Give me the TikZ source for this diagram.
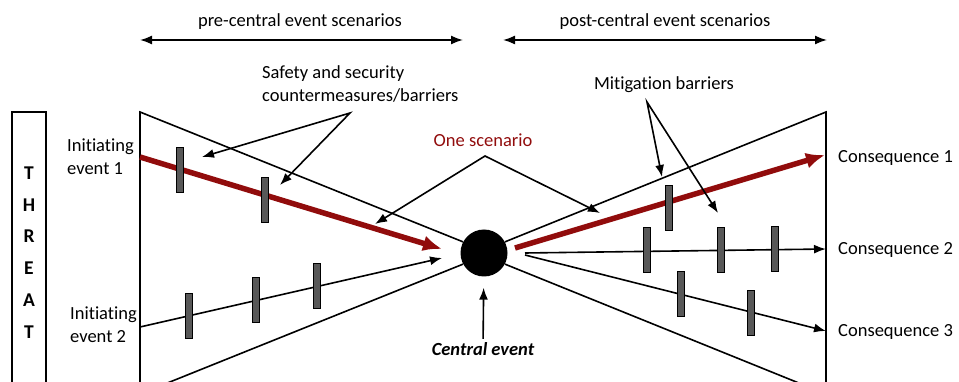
\documentclass[tikz,border=0pt]{standalone}
\usepackage{fontspec}
\setmainfont{Carlito}[Ligatures=NoCommon]
\usepackage{tikz}
\usetikzlibrary{arrows.meta}
\definecolor{scenred}{RGB}{145,12,12}
\definecolor{bargray}{RGB}{88,88,88}
\tikzset{
  thin line/.style={line width=1.6pt},
  plain arrow/.style={line width=1.6pt,-{Latex[length=12pt,width=9pt]}},
  fork arrow/.style={line width=1.6pt,{Latex[length=12pt,width=9pt]}-{Latex[length=12pt,width=9pt]}},
  red arrow/.style={line width=5.5pt,draw=scenred,-{Latex[length=19pt,width=16pt]}},
}
\newcommand{\barriernode}{\node[rectangle,minimum width=7pt,minimum height=45pt,inner sep=0pt,draw=black,line width=0.9pt,fill=bargray]}
\newcommand{\lblnode}{\node[align=left,inner sep=0pt]}

\begin{document}
\begin{tikzpicture}[x=1pt,y=-1pt,font=\fontsize{18.5}{23}\selectfont]
  \useasboundingbox (0,0) rectangle (959,382);
  \clip (0,0) rectangle (959,382);
  % scenario ranges
  \coordinate (preL) at (140,40);
  \coordinate (preR) at (463,40);
  \coordinate (postL) at (503,40);
  \coordinate (postR) at (827,40);
  \draw[fork arrow] (preL) -- (preR);
  \draw[fork arrow] (postL) -- (postR);
  \node (pretxt) at (300,22) {pre-central event scenarios};
  \node (posttxt) at (665,22) {post-central event scenarios};
  % threat column
  \draw[thin line] (12,400) -- (12,112) -- (46,112) -- (46,400);
  \node[align=center,font=\fontsize{19.5}{31.8}\selectfont\bfseries] (threat) at (29,252.5) {T\\H\\R\\E\\A\\T};
  % bow tie
  \node[circle,fill=black,minimum size=47pt,inner sep=0pt] (ce) at (484,253) {};
  \coordinate (ltop) at (140,112);
  \coordinate (lbot) at (140,394);
  \coordinate (rtop) at (826,112);
  \coordinate (rbot) at (826,394);
  \draw[thin line] (ce.152) -- (ltop) -- (lbot) -- (ce.208);
  \draw[thin line] (ce.28) -- (rtop) -- (rbot) -- (ce.-28);
  % scenarios
  \coordinate (ie1) at (140,157);
  \coordinate (ie1end) at (442,249);
  \coordinate (ie2) at (140,327);
  \coordinate (ie2end) at (442,258);
  \coordinate (c1start) at (515,248);
  \coordinate (c1) at (825,155);
  \coordinate (c2start) at (525,253);
  \coordinate (c2) at (826,249);
  \coordinate (c3start) at (525,255);
  \coordinate (c3) at (826,331);
  \draw[red arrow] (ie1) -- (ie1end);
  \draw[red arrow] (c1start) -- (c1);
  \draw[plain arrow] (ie2) -- (ie2end);
  \draw[plain arrow] (c2start) -- (c2);
  \draw[plain arrow] (c3start) -- (c3);
  % barriers
  \barriernode (b1) at (180,170) {};
  \barriernode (b2) at (265,199.5) {};
  \barriernode (b3) at (188.5,315.5) {};
  \barriernode (b4) at (255.5,300) {};
  \barriernode (b5) at (316.5,285.5) {};
  \barriernode (b6) at (668.5,208) {};
  \barriernode (b7) at (646.5,250) {};
  \barriernode (b8) at (720.5,250) {};
  \barriernode (b9) at (775,249) {};
  \barriernode (b10) at (681,293.5) {};
  \barriernode (b11) at (750.5,313) {};
  % labels
  \lblnode[anchor=west] (ie1lbl) at (67,157) {Initiating\\event 1};
  \lblnode[anchor=west] (ie2lbl) at (70,325) {Initiating\\event 2};
  \lblnode[anchor=west] (c1lbl) at (838,158) {Consequence 1};
  \lblnode[anchor=west] (c2lbl) at (838,250) {Consequence 2};
  \lblnode[anchor=west] (c3lbl) at (838,332) {Consequence 3};
  % annotations
  \lblnode[anchor=west] (safety) at (262,84) {Safety and security\\countermeasures/barriers};
  \coordinate (sfork) at (350,113);
  \coordinate (s1) at (202,157);
  \coordinate (s2) at (280,185);
  \draw[fork arrow] (s1) -- (sfork) -- (s2);
  \node (mitig) at (664,85) {Mitigation barriers};
  \coordinate (mfork) at (647,102);
  \coordinate (m1) at (662,177);
  \coordinate (m2) at (718,213);
  \draw[fork arrow] (m1) -- (mfork) -- (m2);
  \node[text=scenred] (onesc) at (483,140) {One scenario};
  \coordinate (ofork) at (485,156);
  \coordinate (o1) at (375,224);
  \coordinate (o2) at (600,213);
  \draw[fork arrow] (o1) -- (ofork) -- (o2);
  \node[font=\fontsize{18.5}{23}\selectfont\bfseries\itshape] (cetxt) at (483,349) {Central event};
  \draw[plain arrow,shorten >=11pt] (cetxt) -- (ce);
\end{tikzpicture}
\end{document}
